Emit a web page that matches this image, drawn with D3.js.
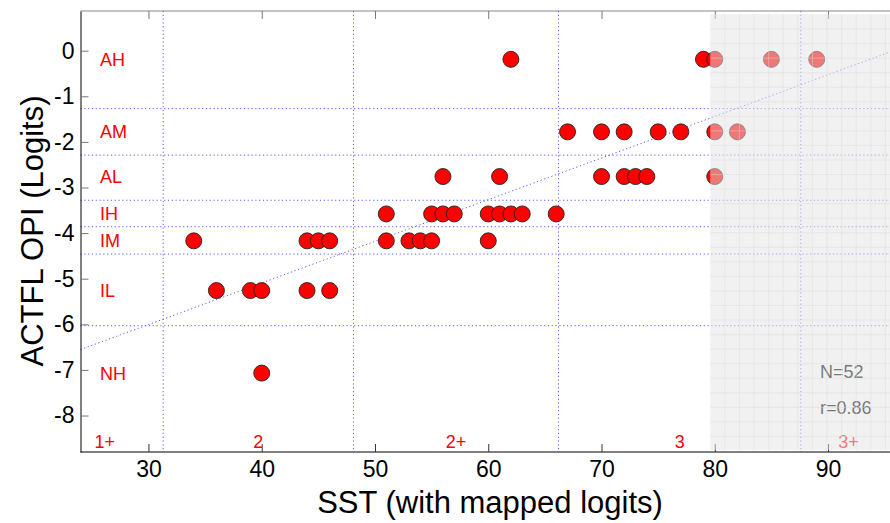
<!DOCTYPE html>
<html>
<head>
<meta charset="utf-8">
<script src="https://cdn.jsdelivr.net/npm/d3@7"></script>
<style>
  body { margin: 0; background: #fff; }
  svg { display: block; font-family: 'Liberation Sans', Arial, Helvetica, sans-serif; }
</style>
</head>
<body>
<svg id="chart" width="890" height="523"></svg>
<script>
// OPI levels and their mapped logits
const levels = ['AH', 'AM', 'AL', 'IH', 'IM', 'IL', 'NH']
const levelLogits = [-0.19, -1.78, -2.76, -3.58, -4.17, -5.26, -7.07]
const levelCuts = [-1.27, -2.29, -3.28, -3.86, -4.46, -6.03]

// SST scores of the students at each level
const sstAH = [62, 79, 80, 85, 89]
const sstAM = [67, 70, 72, 75, 77, 80, 82]
const sstAL = [56, 61, 70, 72, 73, 74, 80]
const sstIH = [51, 55, 56, 57, 60, 61, 62, 63, 66]
const sstIM = [34, 44, 45, 46, 51, 53, 54, 55, 60]
const sstIL = [36, 39, 40, 44, 46]
const sstNH = [40]
const sstByLevel = [sstAH, sstAM, sstAL, sstIH, sstIM, sstIL, sstNH]

// SST bands
const bands = ['1+', '2', '2+', '3', '3+']
const bandCuts = [21, 31.3, 48.1, 66.2, 87.6, 96]
const ceiling = 79.6

const xTicks = [30, 40, 50, 60, 70, 80, 90]
const yTicks = [0, -1, -2, -3, -4, -5, -6, -7, -8]
const fitLine = [-8.745, 0.0913] // intercept, slope
const stats = ['N=52', 'r=0.86']

window.addEventListener('load', () => {
  const svg = d3.select('#chart'),
    width = +svg.attr('width'),
    x = d3.scaleLinear().domain([24, 96]).range([80.5, 896]),
    y = d3.scaleLinear().domain([-8.8, 0.87]).range([452, 11])

  const points = []
  sstByLevel.forEach((list, i) => {
    list.forEach((s) => points.push({ sst: s, logit: levelLogits[i] }))
  })

  const dotted = (sel) =>
    sel.attr('stroke', '#5a5aff').attr('stroke-width', 1).attr('stroke-dasharray', '1.2,2.6')

  // dotted band boundaries
  svg.append('g')
    .selectAll('line')
    .data(levelCuts)
    .enter()
    .append('line')
    .attr('x1', x(24)).attr('x2', width)
    .attr('y1', (d) => y(d)).attr('y2', (d) => y(d))
    .call(dotted)

  svg.append('g')
    .selectAll('line')
    .data(bandCuts.slice(1, -1))
    .enter()
    .append('line')
    .attr('x1', (d) => x(d)).attr('x2', (d) => x(d))
    .attr('y1', y(0.87)).attr('y2', y(-8.8))
    .call(dotted)

  // regression line
  svg.append('line')
    .attr('x1', x(24)).attr('y1', y(fitLine[0] + fitLine[1] * 24))
    .attr('x2', x(96)).attr('y2', y(fitLine[0] + fitLine[1] * 96))
    .call(dotted)

  // axes
  const plain = (d) => String(d)
  const xAxis = svg.append('g')
    .attr('transform', `translate(0,${y(-8.8)})`)
    .call(d3.axisBottom(x).tickValues(xTicks).tickFormat(plain).tickSize(-8).tickSizeOuter(0).tickPadding(9))
  xAxis.select('.domain').attr('stroke', '#000').attr('d', `M${x(24)},0H${width}`)
  xAxis.selectAll('.tick line').attr('stroke', '#333')
  xAxis.selectAll('text').attr('font-size', 23).attr('font-family', null)

  const topAxis = svg.append('g')
    .attr('transform', `translate(0,${y(0.87)})`)
    .call(d3.axisTop(x).tickValues(xTicks).tickSize(-8).tickSizeOuter(0).tickFormat(''))
  topAxis.select('.domain').attr('stroke', '#888').attr('d', `M${x(24)},0H${width}`)
  topAxis.selectAll('.tick line').attr('stroke', '#777')

  const yAxis = svg.append('g')
    .attr('transform', `translate(${x(24)},0)`)
    .call(d3.axisLeft(y).tickValues(yTicks).tickFormat(plain).tickSize(-8).tickSizeOuter(0).tickPadding(6))
  yAxis.select('.domain').attr('stroke', '#000')
  yAxis.selectAll('.tick line').attr('stroke', '#777')
  yAxis.selectAll('text').attr('font-size', 23).attr('font-family', null)

  // level labels
  svg.append('g')
    .selectAll('text')
    .data(levels)
    .enter()
    .append('text')
    .attr('x', 100)
    .attr('y', (d, i) => y(levelLogits[i]))
    .attr('dy', '0.36em')
    .attr('font-size', 18)
    .attr('fill', '#ff0000')
    .text((d) => d)

  // band labels
  svg.append('g')
    .selectAll('text')
    .data(bands)
    .enter()
    .append('text')
    .attr('x', (d, i) => x((bandCuts[i] + bandCuts[i + 1]) / 2))
    .attr('y', y(-8.8) - 4)
    .attr('text-anchor', 'middle')
    .attr('font-size', 18)
    .attr('fill', '#ff0000')
    .text((d) => d)

  // points
  svg.append('g')
    .selectAll('circle')
    .data(points)
    .enter()
    .append('circle')
    .attr('cx', (d) => x(d.sst))
    .attr('cy', (d) => y(d.logit))
    .attr('r', 8)
    .attr('fill', '#ff0000')
    .attr('stroke', '#222')
    .attr('stroke-width', 0.9)

  svg.append('g')
    .selectAll('text')
    .data(stats)
    .enter()
    .append('text')
    .attr('x', 820)
    .attr('y', (d, i) => 378 + i * 36)
    .attr('font-size', 18)
    .attr('fill', '#000')
    .text((d) => d)

  // shaded ceiling region
  const x0 = x(ceiling)
  svg.append('rect')
    .attr('x', x0).attr('y', 14)
    .attr('width', width - x0).attr('height', 436)
    .attr('fill', '#e4e4e4')
    .attr('fill-opacity', 0.52)

  const grid = svg.append('g').attr('stroke', '#dcdcdc').attr('stroke-opacity', 0.45)
  grid.selectAll('.v')
    .data(d3.range(x0 + 14.6, width, 14.6))
    .enter()
    .append('line')
    .attr('x1', (d) => d).attr('x2', (d) => d)
    .attr('y1', 14).attr('y2', 450)
  grid.selectAll('.h')
    .data(d3.range(14.5 + 14.55, 450, 14.55))
    .enter()
    .append('line')
    .attr('x1', x0).attr('x2', width)
    .attr('y1', (d) => d).attr('y2', (d) => d)

  // axis titles
  svg.append('text')
    .attr('x', 490)
    .attr('y', 513)
    .attr('text-anchor', 'middle')
    .attr('font-size', 31)
    .text('SST (with mapped logits)')

  svg.append('text')
    .attr('transform', 'translate(43,231) rotate(-90)')
    .attr('text-anchor', 'middle')
    .attr('font-size', 31)
    .text('ACTFL OPI (Logits)')
})
</script>
</body>
</html>
